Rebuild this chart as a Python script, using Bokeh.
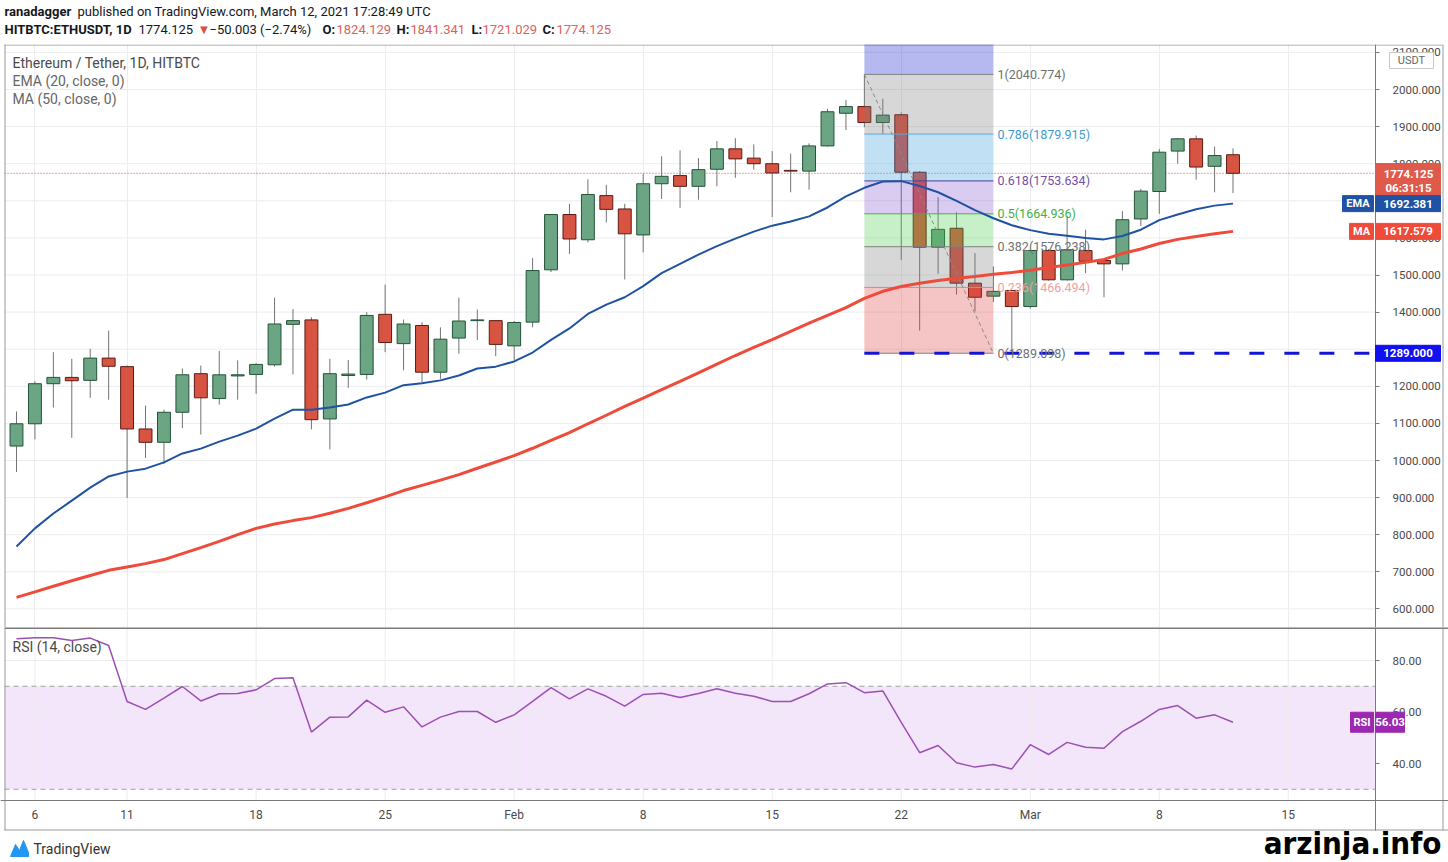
import pandas as pd
from bokeh.plotting import figure
from bokeh.models import (ColumnDataSource, FixedTicker, NumeralTickFormatter,
                          Range1d, LinearAxis)
from bokeh.layouts import column
from bokeh.embed import file_html
from bokeh.resources import INLINE
from bokeh.core.properties import value

# ---------------- data ----------------
dates = pd.date_range("2021-01-05", "2021-03-12", freq="D")

opens = [1039, 1099, 1207, 1224, 1216, 1276, 1253, 1085, 1049, 1130,
         1234, 1167, 1228, 1232, 1258, 1367, 1379, 1112, 1229, 1232,
         1394, 1315, 1364, 1238, 1330, 1377, 1377, 1309, 1373, 1514,
         1663, 1595, 1714, 1678, 1608, 1746, 1768, 1739, 1785, 1840,
         1815, 1800, 1782, 1780, 1848, 1936, 1954, 1911, 1932, 1777,
         1575, 1626, 1478, 1443, 1458, 1415, 1566, 1487, 1566, 1539,
         1530, 1651, 1725, 1834, 1867, 1793, 1824.129]
highs = [1132, 1214, 1292, 1274, 1301, 1350, 1256, 1148, 1137, 1248,
         1256, 1295, 1270, 1262, 1439, 1408, 1386, 1274, 1271, 1400,
         1474, 1380, 1373, 1359, 1439, 1407, 1379, 1376, 1546, 1664,
         1692, 1758, 1743, 1692, 1773, 1820, 1836, 1815, 1861, 1869,
         1852, 1834, 1827, 1855, 1948, 1972, 2040.774, 1975, 1938, 1780,
         1710, 1669, 1559, 1523, 1460, 1568, 1570, 1659, 1622, 1541,
         1672, 1732, 1840, 1869, 1876, 1846, 1841.341]
lows = [969, 1057, 1143, 1061, 1169, 1164, 899, 1007, 991, 1087,
        1070, 1151, 1164, 1180, 1253, 1232, 1084, 1030, 1196, 1218,
        1292, 1243, 1211, 1220, 1288, 1325, 1281, 1270, 1359, 1508,
        1557, 1588, 1642, 1488, 1561, 1705, 1681, 1703, 1739, 1762,
        1784, 1656, 1723, 1730, 1846, 1891, 1898, 1880, 1541, 1350,
        1503, 1447, 1402, 1427, 1289.098, 1409, 1485, 1485, 1505, 1440,
        1512, 1632, 1665, 1800, 1757, 1723, 1721.029]
closes = [1099, 1207, 1224, 1215, 1276, 1254, 1085, 1049, 1130, 1231,
          1169, 1231, 1231, 1259, 1368, 1377, 1110, 1234, 1233, 1391,
          1318, 1368, 1238, 1327, 1376, 1379, 1313, 1372, 1512, 1663,
          1597, 1717, 1677, 1611, 1746, 1766, 1739, 1784, 1840, 1813,
          1800, 1775, 1780, 1848, 1940, 1954, 1911, 1931, 1777, 1575,
          1623, 1478, 1440, 1456, 1415, 1566, 1487, 1568, 1537, 1530,
          1649, 1726, 1831, 1867, 1791, 1822, 1774.125]

ema20 = [768, 817, 857, 892, 927, 957, 970, 978, 995, 1019,
         1032, 1051, 1067, 1086, 1113, 1137, 1137, 1143, 1151, 1170,
         1183, 1203, 1208, 1216, 1229, 1248, 1253, 1267, 1291, 1325,
         1356, 1395, 1420, 1440, 1470, 1505, 1530, 1555, 1578, 1598,
         1617, 1633, 1644, 1658, 1682, 1712, 1735, 1752, 1753, 1740,
         1723, 1700, 1675, 1653, 1634, 1621, 1611, 1606, 1600, 1596,
         1605, 1622, 1648, 1663, 1677, 1687, 1692.381]
ma50 = [631, 646, 661, 676, 690, 704, 713, 722, 733, 749,
        765, 782, 800, 817, 829, 838, 846, 858, 871, 886,
        902, 919, 933, 947, 962, 979, 996, 1013, 1033, 1054,
        1075, 1099, 1122, 1146, 1168, 1191, 1213, 1236, 1260, 1283,
        1305, 1326, 1348, 1370, 1391, 1412, 1437, 1456, 1469, 1478,
        1485, 1491, 1496, 1502, 1507, 1513, 1520, 1527, 1534, 1542,
        1558, 1570, 1585, 1596, 1604, 1611, 1617.579]
rsi14 = [88.4, 88.8, 88.8, 87.8, 88.7, 85.8, 64.1, 61.0, 65.4, 69.9,
         64.3, 67.1, 67.2, 68.6, 73.0, 73.3, 52.2, 58.0, 58.1, 64.6,
         59.9, 62.0, 54.2, 58.0, 60.2, 60.2, 56.0, 58.9, 64.1, 69.5,
         65.1, 69.0, 66.1, 62.3, 66.8, 67.3, 65.6, 67.2, 69.0, 67.3,
         66.1, 64.1, 64.1, 67.1, 70.9, 71.4, 67.5, 68.2, 56.0, 44.2,
         47.0, 40.3, 38.6, 39.6, 37.9, 47.3, 43.5, 48.2, 46.3, 45.9,
         52.4, 56.4, 61.0, 62.5, 57.6, 58.9, 56.03]

tick_days = [1, 6, 13, 20, 27, 34, 41, 48, 55, 62, 69]
tick_labels = ["6", "11", "18", "25", "Feb", "8", "15", "22", "Mar", "8", "15"]
price_ticks = list(range(600, 2101, 100))
rsi_ticks = [40, 60, 80]
rsi_band = [30, 70]

fib_high = 2040.774
fib_low = 1289.098
fib_levels = [1.618, 1, 0.786, 0.618, 0.5, 0.382, 0.236, 0]
fib_texts = ["", "1(2040.774)", "0.786(1879.915)", "0.618(1753.634)",
             "0.5(1664.936)", "0.382(1576.238)", "0.236(1466.494)", "0(1289.098)"]
fib_start_day, fib_end_day = 46, 53
support_level = 1289.0
last_price = 1774.125
countdown = "06:31:15"
ema_last = 1692.381
ma_last = 1617.579
rsi_last = 56.03

header_line1 = [("ranadagger", "#131722", "bold"),
                ("published on TradingView.com, March 12, 2021 17:28:49 UTC", "#131722", "normal")]
header_line2 = [("HITBTC:ETHUSDT, 1D", "#131722", "bold"),
                ("1774.125", "#131722", "normal"),
                ("\u25bc", "#d75442", "normal"),
                ("\u221250.003 (\u22122.74%)", "#131722", "normal"),
                ("O:", "#131722", "bold"), ("1824.129", "#e0605a", "normal"),
                ("H:", "#131722", "bold"), ("1841.341", "#e0605a", "normal"),
                ("L:", "#131722", "bold"), ("1721.029", "#e0605a", "normal"),
                ("C:", "#131722", "bold"), ("1774.125", "#e0605a", "normal")]

# ---------------- styles / layout positions ----------------
UP, UP_LINE = "#6ba583", "#225437"
DN, DN_LINE = "#d75442", "#5b1a13"
WICK = "#737375"
GRID = "#ececf0"
BORDER = "#9a9a9a"
TXT = "#4a4a4a"
FONT = "Roboto"
zone_colors = ["#0b18cc", "#7a7a7a", "#3498db", "#8055cd", "#48cd48", "#7a7a7a", "#de3a3a"]
level_line_colors = ["#3b3bd0", "#808080", "#5aa9dc", "#4a3f9a", "#4caf50", "#808080", "#e88080", "#808080"]
level_text_colors = ["#3b3bd0", "#707070", "#3d9bd6", "#6f4fa8", "#43b043", "#707070", "#f0a0a0", "#707070"]
line1_x = [4, 77]
line2_x = [4, 138, 197, 209, 322, 336, 396, 410, 471, 482, 542, 556]

W = 1448
PX_DAY = 18.432
PRICE_PX = 2.6954
RSI_PX = 1 / 2.575


def dx(px):
    return (px - 16) / PX_DAY


def py(px):
    return 2000 - (px - 89) * PRICE_PX


def ry(px):
    return 60 + (711.5 - px) * RSI_PX


def txt(fig, x, y, text, size="13px", color=TXT, style="normal", align="left",
        baseline="middle", font=FONT, level="glyph"):
    fig.text(x=[x], y=[y], text=[text], text_font=value(font),
             text_font_size=value(size), text_color=color,
             text_font_style=value(style), text_align=value(align),
             text_baseline=value(baseline), level=level)


def badge(fig, x0, x1, yc, hpx, per_px, color, label, size="11.5px", border=None,
          tcolor="white", style="bold"):
    fig.quad(left=dx(x0), right=dx(x1), top=yc + hpx / 2 * per_px,
             bottom=yc - hpx / 2 * per_px, fill_color=color,
             line_color=border if border else color, level="overlay")
    txt(fig, dx((x0 + x1) / 2), yc, label, size=size, color=tcolor, style=style,
        align="center", level="overlay")


def bare(fig):
    fig.outline_line_color = None
    fig.xgrid.visible = False
    fig.ygrid.visible = False


# ---------------- header ----------------
h = figure(width=W, height=44, x_range=Range1d(0, W), y_range=Range1d(44, 0),
           x_axis_location=None, y_axis_location=None, toolbar_location=None,
           output_backend="svg", min_border=0)
bare(h)
for xp, (t, c, s) in zip(line1_x, header_line1):
    txt(h, xp, 11, t, size="13px", color=c, style=s)
for xp, (t, c, s) in zip(line2_x, header_line2):
    txt(h, xp, 29, t, size="13px", color=c, style=s)

# ---------------- main price panel ----------------
x_range = Range1d(dx(0), dx(W))
p1 = figure(width=W, height=583, x_range=x_range, y_range=Range1d(py(627), py(44)),
            x_axis_location=None, y_axis_location=None, toolbar_location=None,
            output_backend="svg", min_border=0)
p1.outline_line_color = None
p1.ygrid.visible = False
p1.xgrid.ticker = FixedTicker(ticks=tick_days)
p1.xgrid.grid_line_color = GRID
p1.segment(x0=dx(4), x1=dx(1375), y0=price_ticks, y1=price_ticks, line_color=GRID)

yax = LinearAxis(fixed_location=dx(1375), ticker=FixedTicker(ticks=price_ticks),
                 formatter=NumeralTickFormatter(format="0.000"))
yax.axis_line_color = "#7a7a7a"
yax.major_tick_line_color = "#7a7a7a"
yax.major_tick_out = 4
yax.major_tick_in = 0
yax.minor_tick_line_color = None
yax.major_label_standoff = 13
yax.major_label_text_font = FONT
yax.major_label_text_font_size = "11.5px"
yax.major_label_text_color = TXT
p1.add_layout(yax, "right")

# chart box borders
p1.segment(x0=dx(4), x1=dx(1442), y0=py(44.5), y1=py(44.5), line_color=BORDER)
p1.segment(x0=[dx(4.5), dx(1442.5)], x1=[dx(4.5), dx(1442.5)], y0=py(44), y1=py(627),
           line_color=BORDER)

# last-price dotted line
p1.segment(x0=dx(4), x1=dx(1375), y0=last_price, y1=last_price, line_color=DN,
           line_dash="1 2", line_width=1)

# candles
days = list(range(len(dates)))
up_idx = [i for i in days if closes[i] >= opens[i]]
dn_idx = [i for i in days if closes[i] < opens[i]]
wick_src = ColumnDataSource(dict(x=days, lo=lows, hi=highs))
p1.segment(x0="x", y0="lo", x1="x", y1="hi", source=wick_src, line_color=WICK, line_width=1)
up_src = ColumnDataSource(dict(x=up_idx, top=[closes[i] for i in up_idx],
                               bot=[opens[i] for i in up_idx]))
dn_src = ColumnDataSource(dict(x=dn_idx, top=[opens[i] for i in dn_idx],
                               bot=[closes[i] for i in dn_idx]))
p1.vbar(x="x", top="top", bottom="bot", width=0.7, source=up_src,
        fill_color=UP, line_color=UP_LINE, line_width=1)
p1.vbar(x="x", top="top", bottom="bot", width=0.7, source=dn_src,
        fill_color=DN, line_color=DN_LINE, line_width=1)

# fibonacci retracement
fib_prices = [fib_low + lv * (fib_high - fib_low) for lv in fib_levels]
zone_src = ColumnDataSource(dict(top=fib_prices[:-1], bottom=fib_prices[1:], color=zone_colors))
p1.quad(left=fib_start_day, right=fib_end_day, top="top", bottom="bottom",
        source=zone_src, fill_color="color", fill_alpha=0.3, line_color=None)
lvl_src = ColumnDataSource(dict(y=fib_prices, color=level_line_colors))
p1.segment(x0=fib_start_day, x1=fib_end_day, y0="y", y1="y", source=lvl_src,
           line_color="color", line_width=1)
p1.line([fib_start_day, fib_end_day], [fib_high, fib_low], line_color="#8a8a8a",
        line_dash="4 3", line_width=1)

# moving averages
p1.line(days, ma50, line_color="#ee4b3b", line_width=3)
p1.line(days, ema20, line_color="#1f52a3", line_width=2)

# support line
p1.line([fib_start_day, dx(1375)], [support_level, support_level], line_color="#1414d8",
        line_width=3, line_dash="15 20")

# fib level texts
for t, pr, col in zip(fib_texts, fib_prices, level_text_colors):
    if t:
        txt(p1, dx(997), pr, t, size="12.5px", color=col)

# legend texts
txt(p1, dx(12), py(62), "Ethereum / Tether, 1D, HITBTC", size="14px", color=TXT)
txt(p1, dx(12), py(80), "EMA (20, close, 0)", size="14px", color="#666666")
txt(p1, dx(12), py(98), "MA (50, close, 0)", size="14px", color="#666666")

# right-axis badges
badge(p1, 1389, 1433, py(60), 16, PRICE_PX, "white", "USDT", size="11px",
      border="#c8c8c8", tcolor="#666666", style="normal")
p1.quad(left=dx(1375), right=dx(1440), top=py(163), bottom=py(197),
        fill_color="#e05a4b", line_color="#e05a4b", level="overlay")
txt(p1, dx(1408), py(173), f"{last_price:.3f}", size="11.5px", color="white",
    style="bold", align="center", level="overlay")
txt(p1, dx(1408), py(187), countdown, size="11.5px", color="white",
    style="bold", align="center", level="overlay")
badge(p1, 1342, 1373, ema_last, 16, PRICE_PX, "#1f52a3", "EMA", size="11px")
badge(p1, 1375, 1440, ema_last, 16, PRICE_PX, "#1f52a3", f"{ema_last:.3f}")
badge(p1, 1349, 1373, ma_last, 16, PRICE_PX, "#ee4b3b", "MA", size="11px")
badge(p1, 1375, 1440, ma_last, 16, PRICE_PX, "#ee4b3b", f"{ma_last:.3f}")
badge(p1, 1375, 1440, support_level, 16, PRICE_PX, "#1010f0", f"{support_level:.3f}")

# ---------------- RSI panel (+ date axis and footer) ----------------
p2 = figure(width=W, height=233, x_range=x_range, y_range=Range1d(ry(860), ry(627)),
            x_axis_location=None, y_axis_location=None, toolbar_location=None,
            output_backend="svg", min_border=0)
bare(p2)
p2.quad(left=dx(4), right=dx(1375), bottom=rsi_band[0], top=rsi_band[1],
        fill_color="#f3e6fa", line_color=None)
p2.segment(x0=tick_days, x1=tick_days, y0=ry(800), y1=ry(627), line_color=GRID)
p2.segment(x0=dx(4), x1=dx(1375), y0=rsi_ticks, y1=rsi_ticks, line_color=GRID)
p2.segment(x0=dx(4), x1=dx(1375), y0=rsi_band, y1=rsi_band, line_color="#a0a0a0",
           line_dash="5 4")
p2.line(days, rsi14, line_color="#9c4fb4", line_width=1.5)

rax = LinearAxis(fixed_location=dx(1375), ticker=FixedTicker(ticks=rsi_ticks),
                 formatter=NumeralTickFormatter(format="0.00"),
                 bounds=(ry(830), ry(627)))
rax.axis_line_color = "#7a7a7a"
rax.major_tick_line_color = "#7a7a7a"
rax.major_tick_out = 4
rax.major_tick_in = 0
rax.minor_tick_line_color = None
rax.major_label_standoff = 13
rax.major_label_text_font = FONT
rax.major_label_text_font_size = "11.5px"
rax.major_label_text_color = TXT
p2.add_layout(rax, "right")

bax = LinearAxis(fixed_location=ry(800), ticker=FixedTicker(ticks=tick_days),
                 major_label_overrides={d: t for d, t in zip(tick_days, tick_labels)})
bax.axis_line_color = "#7a7a7a"
bax.major_tick_line_color = None
bax.major_tick_out = 0
bax.major_tick_in = 0
bax.minor_tick_line_color = None
bax.major_label_standoff = 7
bax.major_label_text_font = FONT
bax.major_label_text_font_size = "12px"
bax.major_label_text_color = TXT
p2.add_layout(bax, "below")

# borders / separator
p2.segment(x0=dx(4), x1=dx(W), y0=[ry(627.5), ry(829.5)], y1=[ry(627.5), ry(829.5)],
           line_color=["#7a7a7a", BORDER], line_width=[2, 1])
p2.segment(x0=[dx(4.5), dx(1442.5)], x1=[dx(4.5), dx(1442.5)], y0=ry(627), y1=ry(830),
           line_color=BORDER)

txt(p2, dx(12), ry(646), "RSI (14, close)", size="14px", color=TXT)
badge(p2, 1350, 1373, rsi_last, 20, RSI_PX, "#9c27b0", "RSI", size="11px")
badge(p2, 1375, 1404, rsi_last, 20, RSI_PX, "#9c27b0", f"{rsi_last:.2f}")

# footer (watermarks)
p2.patch([dx(10), dx(15), dx(19), dx(23), dx(28), dx(28), dx(10)],
         [ry(856), ry(844), ry(850), ry(840), ry(852), ry(856), ry(856)],
         fill_color="#2196f3", line_color="#2196f3")
txt(p2, dx(33), ry(848), "TradingView", size="14px", color="#333333")
txt(p2, dx(1441), ry(842), "arzinja.info", size="31px", color="#000000", style="bold",
    align="right", baseline="middle",
    font="'Liberation Sans Narrow', 'DejaVu Sans Condensed', sans-serif")

layout = column(h, p1, p2, spacing=0)
open("out.html", "w").write(file_html(layout, INLINE, "ETHUSDT"))
